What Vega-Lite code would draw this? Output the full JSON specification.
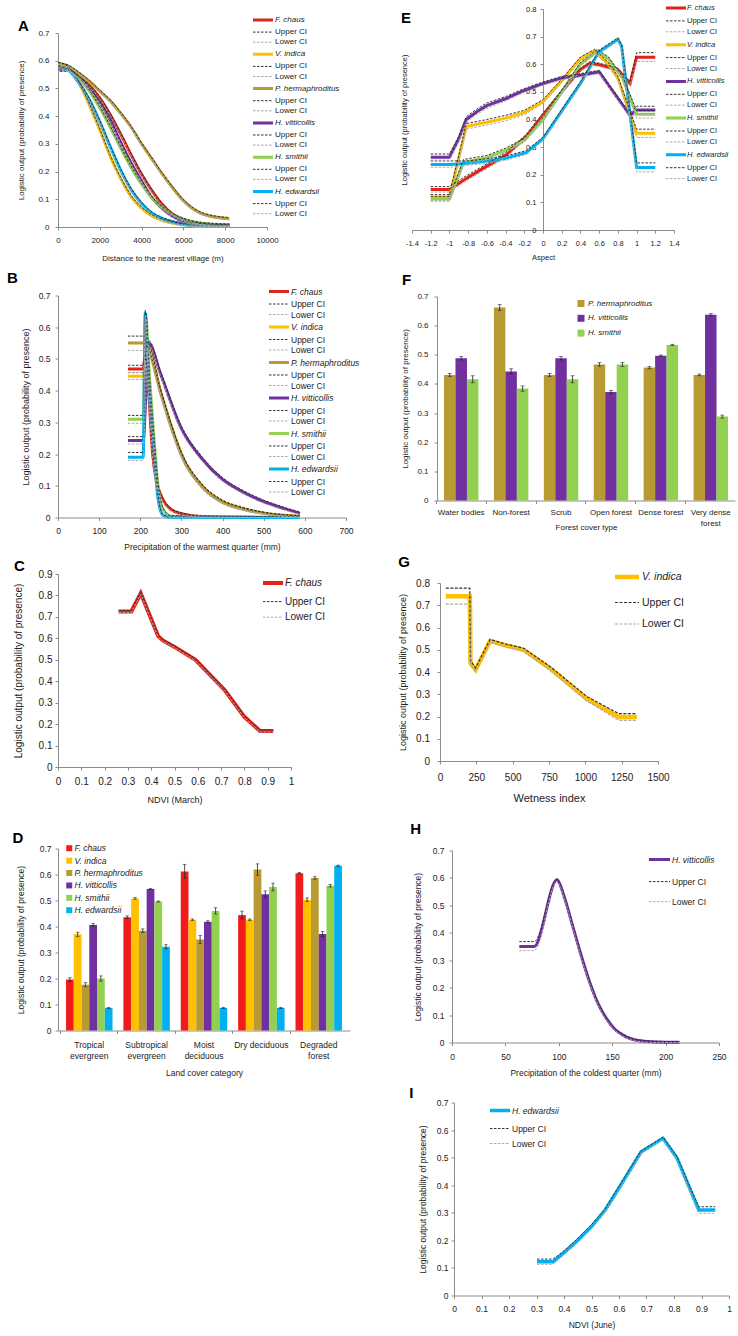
{
"$schema": "https://vega.github.io/schema/vega-lite/v6.json",
"background": "white",
"padding": {"left": 7, "top": 4, "right": 2, "bottom": 2},
"config": {
  "font": "Liberation Sans",
  "view": {"stroke": null},
  "axis": {"grid": false, "labelOverlap": false, "labelFlush": false, "tickCount": 20, "domainColor": "#8c8c8c", "tickColor": "#8c8c8c", "labelColor": "#222222", "titleColor": "#222222", "titleFontWeight": "normal", "tickSize": 3, "labelFont": "Liberation Sans", "titleFont": "Liberation Sans"},
  "legend": {"padding": 0, "labelColor": "#222222", "labelFont": "Liberation Sans", "labelLimit": 0},
  "title": {"font": "Liberation Sans", "color": "#000000"}
},
"datasets": {
"A": [
{"k":"F. chaus","x":0,"y":0.57,"u":0.574,"l":0.566},{"k":"F. chaus","x":500,"y":0.565,"u":0.569,"l":0.561},{"k":"F. chaus","x":1000,"y":0.54,"u":0.544,"l":0.536},{"k":"F. chaus","x":1500,"y":0.51,"u":0.514,"l":0.506},{"k":"F. chaus","x":2000,"y":0.465,"u":0.469,"l":0.461},{"k":"F. chaus","x":2500,"y":0.405,"u":0.409,"l":0.401},{"k":"F. chaus","x":3000,"y":0.335,"u":0.339,"l":0.331},{"k":"F. chaus","x":3500,"y":0.26,"u":0.264,"l":0.256},{"k":"F. chaus","x":4000,"y":0.19,"u":0.194,"l":0.186},{"k":"F. chaus","x":4500,"y":0.13,"u":0.134,"l":0.126},{"k":"F. chaus","x":5000,"y":0.08,"u":0.084,"l":0.076},{"k":"F. chaus","x":5500,"y":0.045,"u":0.049,"l":0.041},{"k":"F. chaus","x":6000,"y":0.025,"u":0.029,"l":0.021},{"k":"F. chaus","x":7000,"y":0.01,"u":0.013,"l":0.007},{"k":"F. chaus","x":8200,"y":0.005,"u":0.008,"l":0.002},
{"k":"V. indica","x":0,"y":0.59,"u":0.594,"l":0.586},{"k":"V. indica","x":500,"y":0.575,"u":0.579,"l":0.571},{"k":"V. indica","x":1000,"y":0.52,"u":0.524,"l":0.516},{"k":"V. indica","x":1500,"y":0.44,"u":0.444,"l":0.436},{"k":"V. indica","x":2000,"y":0.35,"u":0.354,"l":0.346},{"k":"V. indica","x":2500,"y":0.255,"u":0.259,"l":0.251},{"k":"V. indica","x":3000,"y":0.175,"u":0.179,"l":0.171},{"k":"V. indica","x":3500,"y":0.11,"u":0.114,"l":0.106},{"k":"V. indica","x":4000,"y":0.068,"u":0.072,"l":0.064},{"k":"V. indica","x":4500,"y":0.04,"u":0.044,"l":0.036},{"k":"V. indica","x":5000,"y":0.024,"u":0.028,"l":0.02},{"k":"V. indica","x":5500,"y":0.014,"u":0.018,"l":0.01},{"k":"V. indica","x":6000,"y":0.008,"u":0.012,"l":0.004},{"k":"V. indica","x":7000,"y":0.003,"u":0.006,"l":0.001},{"k":"V. indica","x":8200,"y":0.002,"u":0.005,"l":0},
{"k":"P. hermaphroditus","x":0,"y":0.59,"u":0.594,"l":0.586},{"k":"P. hermaphroditus","x":500,"y":0.58,"u":0.584,"l":0.576},{"k":"P. hermaphroditus","x":1000,"y":0.555,"u":0.559,"l":0.551},{"k":"P. hermaphroditus","x":1500,"y":0.525,"u":0.529,"l":0.521},{"k":"P. hermaphroditus","x":2000,"y":0.49,"u":0.494,"l":0.486},{"k":"P. hermaphroditus","x":2500,"y":0.455,"u":0.459,"l":0.451},{"k":"P. hermaphroditus","x":3000,"y":0.41,"u":0.414,"l":0.406},{"k":"P. hermaphroditus","x":3500,"y":0.36,"u":0.364,"l":0.356},{"k":"P. hermaphroditus","x":4000,"y":0.3,"u":0.304,"l":0.296},{"k":"P. hermaphroditus","x":4500,"y":0.245,"u":0.249,"l":0.241},{"k":"P. hermaphroditus","x":5000,"y":0.19,"u":0.194,"l":0.186},{"k":"P. hermaphroditus","x":5500,"y":0.14,"u":0.144,"l":0.136},{"k":"P. hermaphroditus","x":6000,"y":0.095,"u":0.099,"l":0.091},{"k":"P. hermaphroditus","x":7000,"y":0.045,"u":0.049,"l":0.041},{"k":"P. hermaphroditus","x":8200,"y":0.03,"u":0.034,"l":0.026},
{"k":"H. vitticollis","x":0,"y":0.565,"u":0.569,"l":0.561},{"k":"H. vitticollis","x":500,"y":0.565,"u":0.569,"l":0.561},{"k":"H. vitticollis","x":1000,"y":0.54,"u":0.544,"l":0.536},{"k":"H. vitticollis","x":1500,"y":0.5,"u":0.504,"l":0.496},{"k":"H. vitticollis","x":2000,"y":0.45,"u":0.454,"l":0.446},{"k":"H. vitticollis","x":2500,"y":0.385,"u":0.389,"l":0.381},{"k":"H. vitticollis","x":3000,"y":0.305,"u":0.309,"l":0.301},{"k":"H. vitticollis","x":3500,"y":0.23,"u":0.234,"l":0.226},{"k":"H. vitticollis","x":4000,"y":0.165,"u":0.169,"l":0.161},{"k":"H. vitticollis","x":4500,"y":0.105,"u":0.109,"l":0.101},{"k":"H. vitticollis","x":5000,"y":0.065,"u":0.069,"l":0.061},{"k":"H. vitticollis","x":5500,"y":0.038,"u":0.042,"l":0.034},{"k":"H. vitticollis","x":6000,"y":0.02,"u":0.024,"l":0.016},{"k":"H. vitticollis","x":7000,"y":0.008,"u":0.011,"l":0.005},{"k":"H. vitticollis","x":8200,"y":0.004,"u":0.007,"l":0.001},
{"k":"H. smithii","x":0,"y":0.58,"u":0.584,"l":0.576},{"k":"H. smithii","x":500,"y":0.57,"u":0.574,"l":0.566},{"k":"H. smithii","x":1000,"y":0.535,"u":0.539,"l":0.531},{"k":"H. smithii","x":1500,"y":0.49,"u":0.494,"l":0.486},{"k":"H. smithii","x":2000,"y":0.43,"u":0.434,"l":0.426},{"k":"H. smithii","x":2500,"y":0.36,"u":0.364,"l":0.356},{"k":"H. smithii","x":3000,"y":0.285,"u":0.289,"l":0.281},{"k":"H. smithii","x":3500,"y":0.215,"u":0.219,"l":0.211},{"k":"H. smithii","x":4000,"y":0.155,"u":0.159,"l":0.151},{"k":"H. smithii","x":4500,"y":0.105,"u":0.109,"l":0.101},{"k":"H. smithii","x":5000,"y":0.07,"u":0.074,"l":0.066},{"k":"H. smithii","x":5500,"y":0.045,"u":0.049,"l":0.041},{"k":"H. smithii","x":6000,"y":0.028,"u":0.032,"l":0.024},{"k":"H. smithii","x":7000,"y":0.012,"u":0.016,"l":0.008},{"k":"H. smithii","x":8200,"y":0.008,"u":0.011,"l":0.005},
{"k":"H. edwardsii","x":0,"y":0.575,"u":0.579,"l":0.571},{"k":"H. edwardsii","x":500,"y":0.565,"u":0.569,"l":0.561},{"k":"H. edwardsii","x":1000,"y":0.52,"u":0.524,"l":0.516},{"k":"H. edwardsii","x":1500,"y":0.46,"u":0.464,"l":0.456},{"k":"H. edwardsii","x":2000,"y":0.38,"u":0.384,"l":0.376},{"k":"H. edwardsii","x":2500,"y":0.29,"u":0.294,"l":0.286},{"k":"H. edwardsii","x":3000,"y":0.205,"u":0.209,"l":0.201},{"k":"H. edwardsii","x":3500,"y":0.135,"u":0.139,"l":0.131},{"k":"H. edwardsii","x":4000,"y":0.085,"u":0.089,"l":0.081},{"k":"H. edwardsii","x":4500,"y":0.05,"u":0.054,"l":0.046},{"k":"H. edwardsii","x":5000,"y":0.03,"u":0.034,"l":0.026},{"k":"H. edwardsii","x":5500,"y":0.018,"u":0.022,"l":0.014},{"k":"H. edwardsii","x":6000,"y":0.01,"u":0.014,"l":0.006},{"k":"H. edwardsii","x":7000,"y":0.004,"u":0.007,"l":0.001},{"k":"H. edwardsii","x":8200,"y":0.002,"u":0.005,"l":0}
],
"B": [
{"k":"F. chaus","x":170,"y":0.468,"u":0.48,"l":0.457},{"k":"F. chaus","x":207,"y":0.468,"u":0.48,"l":0.457},{"k":"F. chaus","x":211,"y":0.5,"u":0.51,"l":0.49},{"k":"F. chaus","x":220,"y":0.4,"u":0.41,"l":0.39},{"k":"F. chaus","x":230,"y":0.2,"u":0.21,"l":0.19},{"k":"F. chaus","x":240,"y":0.11,"u":0.118,"l":0.102},{"k":"F. chaus","x":250,"y":0.07,"u":0.076,"l":0.064},{"k":"F. chaus","x":260,"y":0.045,"u":0.05,"l":0.04},{"k":"F. chaus","x":275,"y":0.025,"u":0.029,"l":0.021},{"k":"F. chaus","x":300,"y":0.012,"u":0.015,"l":0.009},{"k":"F. chaus","x":350,"y":0.003,"u":0.005,"l":0.001},{"k":"F. chaus","x":588,"y":0,"u":0.001,"l":0},
{"k":"V. indica","x":170,"y":0.445,"u":0.457,"l":0.435},{"k":"V. indica","x":207,"y":0.445,"u":0.457,"l":0.435},{"k":"V. indica","x":218,"y":0.54,"u":0.548,"l":0.532},{"k":"V. indica","x":250,"y":0.395,"u":0.403,"l":0.387},{"k":"V. indica","x":275,"y":0.29,"u":0.298,"l":0.282},{"k":"V. indica","x":300,"y":0.2,"u":0.207,"l":0.193},{"k":"V. indica","x":350,"y":0.1,"u":0.106,"l":0.094},{"k":"V. indica","x":400,"y":0.05,"u":0.055,"l":0.045},{"k":"V. indica","x":450,"y":0.028,"u":0.032,"l":0.024},{"k":"V. indica","x":500,"y":0.014,"u":0.017,"l":0.011},{"k":"V. indica","x":588,"y":0.004,"u":0.006,"l":0.002},
{"k":"P. hermaphroditus","x":170,"y":0.55,"u":0.572,"l":0.527},{"k":"P. hermaphroditus","x":207,"y":0.55,"u":0.572,"l":0.527},{"k":"P. hermaphroditus","x":218,"y":0.535,"u":0.543,"l":0.527},{"k":"P. hermaphroditus","x":250,"y":0.39,"u":0.398,"l":0.382},{"k":"P. hermaphroditus","x":275,"y":0.285,"u":0.293,"l":0.277},{"k":"P. hermaphroditus","x":300,"y":0.196,"u":0.203,"l":0.189},{"k":"P. hermaphroditus","x":350,"y":0.097,"u":0.103,"l":0.091},{"k":"P. hermaphroditus","x":400,"y":0.048,"u":0.053,"l":0.043},{"k":"P. hermaphroditus","x":450,"y":0.026,"u":0.03,"l":0.022},{"k":"P. hermaphroditus","x":500,"y":0.013,"u":0.016,"l":0.01},{"k":"P. hermaphroditus","x":588,"y":0.003,"u":0.005,"l":0.001},
{"k":"H. vitticollis","x":170,"y":0.243,"u":0.255,"l":0.232},{"k":"H. vitticollis","x":207,"y":0.243,"u":0.255,"l":0.232},{"k":"H. vitticollis","x":220,"y":0.55,"u":0.558,"l":0.542},{"k":"H. vitticollis","x":250,"y":0.45,"u":0.458,"l":0.442},{"k":"H. vitticollis","x":300,"y":0.28,"u":0.288,"l":0.272},{"k":"H. vitticollis","x":350,"y":0.185,"u":0.192,"l":0.178},{"k":"H. vitticollis","x":400,"y":0.12,"u":0.126,"l":0.114},{"k":"H. vitticollis","x":450,"y":0.08,"u":0.085,"l":0.075},{"k":"H. vitticollis","x":500,"y":0.05,"u":0.055,"l":0.045},{"k":"H. vitticollis","x":550,"y":0.028,"u":0.032,"l":0.024},{"k":"H. vitticollis","x":588,"y":0.013,"u":0.017,"l":0.009},
{"k":"H. smithii","x":170,"y":0.31,"u":0.322,"l":0.297},{"k":"H. smithii","x":207,"y":0.31,"u":0.322,"l":0.297},{"k":"H. smithii","x":213,"y":0.64,"u":0.648,"l":0.632},{"k":"H. smithii","x":222,"y":0.45,"u":0.458,"l":0.442},{"k":"H. smithii","x":235,"y":0.22,"u":0.228,"l":0.212},{"k":"H. smithii","x":245,"y":0.08,"u":0.086,"l":0.074},{"k":"H. smithii","x":258,"y":0.02,"u":0.024,"l":0.016},{"k":"H. smithii","x":275,"y":0.004,"u":0.006,"l":0.002},{"k":"H. smithii","x":588,"y":0,"u":0.001,"l":0},
{"k":"H. edwardsii","x":170,"y":0.19,"u":0.205,"l":0.18},{"k":"H. edwardsii","x":207,"y":0.19,"u":0.205,"l":0.18},{"k":"H. edwardsii","x":212,"y":0.645,"u":0.653,"l":0.637},{"k":"H. edwardsii","x":220,"y":0.43,"u":0.438,"l":0.422},{"k":"H. edwardsii","x":233,"y":0.217,"u":0.225,"l":0.209},{"k":"H. edwardsii","x":243,"y":0.06,"u":0.066,"l":0.054},{"k":"H. edwardsii","x":255,"y":0.007,"u":0.01,"l":0.004},{"k":"H. edwardsii","x":270,"y":0.001,"u":0.002,"l":0},{"k":"H. edwardsii","x":588,"y":0,"u":0.001,"l":0}
],
"C": [
{"k":"F. chaus","x":0.26,"y":0.725,"u":0.729,"l":0.721},{"k":"F. chaus","x":0.315,"y":0.725,"u":0.729,"l":0.721},{"k":"F. chaus","x":0.355,"y":0.81,"u":0.814,"l":0.806},{"k":"F. chaus","x":0.43,"y":0.61,"u":0.614,"l":0.606},{"k":"F. chaus","x":0.45,"y":0.59,"u":0.594,"l":0.586},{"k":"F. chaus","x":0.5,"y":0.56,"u":0.564,"l":0.556},{"k":"F. chaus","x":0.59,"y":0.5,"u":0.504,"l":0.496},{"k":"F. chaus","x":0.716,"y":0.358,"u":0.362,"l":0.354},{"k":"F. chaus","x":0.8,"y":0.234,"u":0.238,"l":0.23},{"k":"F. chaus","x":0.867,"y":0.168,"u":0.172,"l":0.164},{"k":"F. chaus","x":0.924,"y":0.168,"u":0.172,"l":0.164}
],
"D": [
{"c":"Tropical evergreen","k":"F. chaus","v":0.196,"lo":0.189,"hi":0.203},{"c":"Tropical evergreen","k":"V. indica","v":0.37,"lo":0.362,"hi":0.378},{"c":"Tropical evergreen","k":"P. hermaphroditus","v":0.176,"lo":0.168,"hi":0.184},{"c":"Tropical evergreen","k":"H. vitticollis","v":0.406,"lo":0.4,"hi":0.412},{"c":"Tropical evergreen","k":"H. smithii","v":0.2,"lo":0.19,"hi":0.21},{"c":"Tropical evergreen","k":"H. edwardsii","v":0.087,"lo":0.085,"hi":0.089},
{"c":"Subtropical evergreen","k":"F. chaus","v":0.436,"lo":0.431,"hi":0.441},{"c":"Subtropical evergreen","k":"V. indica","v":0.508,"lo":0.505,"hi":0.511},{"c":"Subtropical evergreen","k":"P. hermaphroditus","v":0.384,"lo":0.377,"hi":0.391},{"c":"Subtropical evergreen","k":"H. vitticollis","v":0.544,"lo":0.542,"hi":0.546},{"c":"Subtropical evergreen","k":"H. smithii","v":0.496,"lo":0.494,"hi":0.498},{"c":"Subtropical evergreen","k":"H. edwardsii","v":0.322,"lo":0.314,"hi":0.33},
{"c":"Moist deciduous","k":"F. chaus","v":0.612,"lo":0.585,"hi":0.639},{"c":"Moist deciduous","k":"V. indica","v":0.426,"lo":0.423,"hi":0.429},{"c":"Moist deciduous","k":"P. hermaphroditus","v":0.35,"lo":0.335,"hi":0.365},{"c":"Moist deciduous","k":"H. vitticollis","v":0.418,"lo":0.414,"hi":0.422},{"c":"Moist deciduous","k":"H. smithii","v":0.46,"lo":0.448,"hi":0.472},{"c":"Moist deciduous","k":"H. edwardsii","v":0.087,"lo":0.085,"hi":0.089},
{"c":"Dry deciduous","k":"F. chaus","v":0.444,"lo":0.429,"hi":0.459},{"c":"Dry deciduous","k":"V. indica","v":0.426,"lo":0.423,"hi":0.429},{"c":"Dry deciduous","k":"P. hermaphroditus","v":0.619,"lo":0.597,"hi":0.641},{"c":"Dry deciduous","k":"H. vitticollis","v":0.524,"lo":0.511,"hi":0.537},{"c":"Dry deciduous","k":"H. smithii","v":0.552,"lo":0.537,"hi":0.567},{"c":"Dry deciduous","k":"H. edwardsii","v":0.087,"lo":0.085,"hi":0.089},
{"c":"Degraded forest","k":"F. chaus","v":0.605,"lo":0.602,"hi":0.608},{"c":"Degraded forest","k":"V. indica","v":0.503,"lo":0.496,"hi":0.51},{"c":"Degraded forest","k":"P. hermaphroditus","v":0.587,"lo":0.582,"hi":0.592},{"c":"Degraded forest","k":"H. vitticollis","v":0.371,"lo":0.361,"hi":0.381},{"c":"Degraded forest","k":"H. smithii","v":0.557,"lo":0.552,"hi":0.562},{"c":"Degraded forest","k":"H. edwardsii","v":0.634,"lo":0.632,"hi":0.636}
],
"E": [
{"k":"F. chaus","x":-1.2,"y":0.147,"u":0.157,"l":0.137},{"k":"F. chaus","x":-1.0,"y":0.147,"u":0.157,"l":0.137},{"k":"F. chaus","x":-0.85,"y":0.18,"u":0.19,"l":0.172},{"k":"F. chaus","x":-0.64,"y":0.223,"u":0.232,"l":0.214},{"k":"F. chaus","x":-0.4,"y":0.27,"u":0.28,"l":0.262},{"k":"F. chaus","x":-0.18,"y":0.338,"u":0.346,"l":0.33},{"k":"F. chaus","x":0,"y":0.416,"u":0.423,"l":0.41},{"k":"F. chaus","x":0.2,"y":0.5,"u":0.506,"l":0.494},{"k":"F. chaus","x":0.4,"y":0.58,"u":0.586,"l":0.575},{"k":"F. chaus","x":0.5,"y":0.603,"u":0.609,"l":0.597},{"k":"F. chaus","x":0.6,"y":0.598,"u":0.604,"l":0.592},{"k":"F. chaus","x":0.8,"y":0.58,"u":0.586,"l":0.574},{"k":"F. chaus","x":0.93,"y":0.53,"u":0.537,"l":0.523},{"k":"F. chaus","x":1.0,"y":0.625,"u":0.642,"l":0.61},{"k":"F. chaus","x":1.2,"y":0.625,"u":0.642,"l":0.61},
{"k":"V. indica","x":-1.2,"y":0.118,"u":0.128,"l":0.108},{"k":"V. indica","x":-1.0,"y":0.118,"u":0.128,"l":0.108},{"k":"V. indica","x":-0.82,"y":0.375,"u":0.385,"l":0.365},{"k":"V. indica","x":-0.6,"y":0.39,"u":0.4,"l":0.38},{"k":"V. indica","x":-0.4,"y":0.405,"u":0.415,"l":0.395},{"k":"V. indica","x":-0.2,"y":0.425,"u":0.433,"l":0.417},{"k":"V. indica","x":0,"y":0.465,"u":0.472,"l":0.458},{"k":"V. indica","x":0.2,"y":0.54,"u":0.546,"l":0.534},{"k":"V. indica","x":0.4,"y":0.62,"u":0.626,"l":0.614},{"k":"V. indica","x":0.55,"y":0.648,"u":0.654,"l":0.642},{"k":"V. indica","x":0.7,"y":0.6,"u":0.606,"l":0.594},{"k":"V. indica","x":0.8,"y":0.55,"u":0.556,"l":0.544},{"k":"V. indica","x":1.0,"y":0.35,"u":0.365,"l":0.335},{"k":"V. indica","x":1.2,"y":0.35,"u":0.365,"l":0.335},
{"k":"H. vitticollis","x":-1.2,"y":0.263,"u":0.275,"l":0.253},{"k":"H. vitticollis","x":-1.0,"y":0.263,"u":0.275,"l":0.253},{"k":"H. vitticollis","x":-0.9,"y":0.33,"u":0.34,"l":0.32},{"k":"H. vitticollis","x":-0.82,"y":0.4,"u":0.41,"l":0.39},{"k":"H. vitticollis","x":-0.7,"y":0.43,"u":0.44,"l":0.42},{"k":"H. vitticollis","x":-0.6,"y":0.45,"u":0.46,"l":0.44},{"k":"H. vitticollis","x":-0.4,"y":0.475,"u":0.483,"l":0.467},{"k":"H. vitticollis","x":-0.2,"y":0.505,"u":0.512,"l":0.498},{"k":"H. vitticollis","x":0,"y":0.53,"u":0.536,"l":0.524},{"k":"H. vitticollis","x":0.2,"y":0.55,"u":0.556,"l":0.544},{"k":"H. vitticollis","x":0.4,"y":0.56,"u":0.566,"l":0.554},{"k":"H. vitticollis","x":0.6,"y":0.572,"u":0.578,"l":0.566},{"k":"H. vitticollis","x":0.75,"y":0.5,"u":0.507,"l":0.493},{"k":"H. vitticollis","x":0.93,"y":0.415,"u":0.422,"l":0.408},{"k":"H. vitticollis","x":1.0,"y":0.434,"u":0.448,"l":0.42},{"k":"H. vitticollis","x":1.2,"y":0.434,"u":0.448,"l":0.42},
{"k":"H. smithii","x":-1.2,"y":0.112,"u":0.122,"l":0.104},{"k":"H. smithii","x":-1.0,"y":0.112,"u":0.122,"l":0.104},{"k":"H. smithii","x":-0.9,"y":0.2,"u":0.21,"l":0.19},{"k":"H. smithii","x":-0.85,"y":0.245,"u":0.255,"l":0.236},{"k":"H. smithii","x":-0.6,"y":0.262,"u":0.27,"l":0.254},{"k":"H. smithii","x":-0.4,"y":0.288,"u":0.296,"l":0.28},{"k":"H. smithii","x":-0.2,"y":0.325,"u":0.332,"l":0.318},{"k":"H. smithii","x":0,"y":0.4,"u":0.407,"l":0.393},{"k":"H. smithii","x":0.2,"y":0.5,"u":0.506,"l":0.494},{"k":"H. smithii","x":0.4,"y":0.6,"u":0.606,"l":0.594},{"k":"H. smithii","x":0.58,"y":0.648,"u":0.654,"l":0.642},{"k":"H. smithii","x":0.7,"y":0.62,"u":0.626,"l":0.614},{"k":"H. smithii","x":0.85,"y":0.55,"u":0.556,"l":0.544},{"k":"H. smithii","x":1.0,"y":0.419,"u":0.432,"l":0.405},{"k":"H. smithii","x":1.2,"y":0.419,"u":0.432,"l":0.405},
{"k":"H. edwardsii","x":-1.2,"y":0.237,"u":0.25,"l":0.227},{"k":"H. edwardsii","x":-1.0,"y":0.237,"u":0.25,"l":0.227},{"k":"H. edwardsii","x":-0.8,"y":0.242,"u":0.25,"l":0.234},{"k":"H. edwardsii","x":-0.6,"y":0.25,"u":0.258,"l":0.242},{"k":"H. edwardsii","x":-0.4,"y":0.26,"u":0.268,"l":0.252},{"k":"H. edwardsii","x":-0.18,"y":0.28,"u":0.287,"l":0.273},{"k":"H. edwardsii","x":0,"y":0.33,"u":0.336,"l":0.324},{"k":"H. edwardsii","x":0.2,"y":0.43,"u":0.436,"l":0.424},{"k":"H. edwardsii","x":0.4,"y":0.53,"u":0.536,"l":0.524},{"k":"H. edwardsii","x":0.6,"y":0.645,"u":0.651,"l":0.639},{"k":"H. edwardsii","x":0.8,"y":0.69,"u":0.696,"l":0.684},{"k":"H. edwardsii","x":0.84,"y":0.665,"u":0.671,"l":0.659},{"k":"H. edwardsii","x":1.0,"y":0.226,"u":0.243,"l":0.21},{"k":"H. edwardsii","x":1.2,"y":0.226,"u":0.243,"l":0.21}
],
"F": [
{"c":"Water bodies","k":"P. hermaphroditus","v":0.431,"lo":0.426,"hi":0.436},{"c":"Water bodies","k":"H. vitticollis","v":0.488,"lo":0.482,"hi":0.494},{"c":"Water bodies","k":"H. smithii","v":0.416,"lo":0.404,"hi":0.428},
{"c":"Non-forest","k":"P. hermaphroditus","v":0.662,"lo":0.652,"hi":0.672},{"c":"Non-forest","k":"H. vitticollis","v":0.443,"lo":0.434,"hi":0.452},{"c":"Non-forest","k":"H. smithii","v":0.384,"lo":0.375,"hi":0.393},
{"c":"Scrub","k":"P. hermaphroditus","v":0.431,"lo":0.426,"hi":0.436},{"c":"Scrub","k":"H. vitticollis","v":0.488,"lo":0.482,"hi":0.494},{"c":"Scrub","k":"H. smithii","v":0.416,"lo":0.404,"hi":0.428},
{"c":"Open forest","k":"P. hermaphroditus","v":0.467,"lo":0.461,"hi":0.473},{"c":"Open forest","k":"H. vitticollis","v":0.372,"lo":0.366,"hi":0.378},{"c":"Open forest","k":"H. smithii","v":0.467,"lo":0.46,"hi":0.474},
{"c":"Dense forest","k":"P. hermaphroditus","v":0.456,"lo":0.452,"hi":0.46},{"c":"Dense forest","k":"H. vitticollis","v":0.497,"lo":0.495,"hi":0.499},{"c":"Dense forest","k":"H. smithii","v":0.534,"lo":0.532,"hi":0.536},
{"c":"Very dense forest","k":"P. hermaphroditus","v":0.431,"lo":0.428,"hi":0.434},{"c":"Very dense forest","k":"H. vitticollis","v":0.637,"lo":0.633,"hi":0.641},{"c":"Very dense forest","k":"H. smithii","v":0.288,"lo":0.283,"hi":0.293}
],
"G": [
{"k":"V. indica","x":40,"y":0.74,"u":0.777,"l":0.705},{"k":"V. indica","x":205,"y":0.74,"u":0.777,"l":0.705},{"k":"V. indica","x":210,"y":0.44,"u":0.45,"l":0.43},{"k":"V. indica","x":245,"y":0.41,"u":0.418,"l":0.402},{"k":"V. indica","x":345,"y":0.54,"u":0.546,"l":0.534},{"k":"V. indica","x":450,"y":0.52,"u":0.526,"l":0.514},{"k":"V. indica","x":575,"y":0.5,"u":0.507,"l":0.493},{"k":"V. indica","x":760,"y":0.415,"u":0.423,"l":0.407},{"k":"V. indica","x":1010,"y":0.28,"u":0.29,"l":0.27},{"k":"V. indica","x":1230,"y":0.198,"u":0.213,"l":0.183},{"k":"V. indica","x":1355,"y":0.198,"u":0.213,"l":0.183}
],
"H": [
{"k":"H. vitticollis","x":63,"y":0.35,"u":0.368,"l":0.335},{"k":"H. vitticollis","x":77,"y":0.35,"u":0.368,"l":0.335},{"k":"H. vitticollis","x":98.4,"y":0.593,"u":0.597,"l":0.588},{"k":"H. vitticollis","x":100,"y":0.585,"u":0.59,"l":0.58},{"k":"H. vitticollis","x":106,"y":0.52,"u":0.525,"l":0.515},{"k":"H. vitticollis","x":113,"y":0.425,"u":0.43,"l":0.42},{"k":"H. vitticollis","x":120,"y":0.33,"u":0.335,"l":0.325},{"k":"H. vitticollis","x":129,"y":0.219,"u":0.224,"l":0.214},{"k":"H. vitticollis","x":137,"y":0.14,"u":0.145,"l":0.135},{"k":"H. vitticollis","x":145,"y":0.085,"u":0.09,"l":0.08},{"k":"H. vitticollis","x":152,"y":0.05,"u":0.054,"l":0.046},{"k":"H. vitticollis","x":160,"y":0.027,"u":0.031,"l":0.023},{"k":"H. vitticollis","x":176,"y":0.006,"u":0.009,"l":0.003},{"k":"H. vitticollis","x":190,"y":0.002,"u":0.005,"l":0},{"k":"H. vitticollis","x":213,"y":0.001,"u":0.003,"l":0}
],
"I": [
{"k":"H. edwardsii","x":0.302,"y":0.122,"u":0.132,"l":0.113},{"k":"H. edwardsii","x":0.36,"y":0.122,"u":0.132,"l":0.113},{"k":"H. edwardsii","x":0.4,"y":0.155,"u":0.162,"l":0.149},{"k":"H. edwardsii","x":0.45,"y":0.2,"u":0.207,"l":0.193},{"k":"H. edwardsii","x":0.5,"y":0.25,"u":0.257,"l":0.243},{"k":"H. edwardsii","x":0.55,"y":0.31,"u":0.316,"l":0.304},{"k":"H. edwardsii","x":0.6,"y":0.39,"u":0.396,"l":0.384},{"k":"H. edwardsii","x":0.68,"y":0.52,"u":0.525,"l":0.515},{"k":"H. edwardsii","x":0.76,"y":0.57,"u":0.574,"l":0.566},{"k":"H. edwardsii","x":0.81,"y":0.5,"u":0.506,"l":0.494},{"k":"H. edwardsii","x":0.89,"y":0.31,"u":0.322,"l":0.298},{"k":"H. edwardsii","x":0.95,"y":0.31,"u":0.322,"l":0.298}
]
},
"spacing": 38,
"resolve": {"scale": {"color": "independent", "xOffset": "independent"}},
"hconcat": [
{
"spacing": 8.5,
"resolve": {"scale": {"color": "independent", "xOffset": "independent"}},
"vconcat": [
{
 "width": 209, "height": 218,
 "title": {"text": "A", "orient": "left", "anchor": "end", "frame": "group", "angle": 0, "offset": -21.8, "dy": 21.5, "fontSize": 15, "fontWeight": "bold", "baseline": "alphabetic", "align": "right"},
 "data": {"name": "A"},
 "encoding": {"x": {"field": "x", "type": "quantitative", "title": "Distance to the nearest village (m)", "scale": {"domain": [0, 10000]}, "axis": {"values": [0, 2000, 4000, 6000, 8000, 10000], "tickCount": 20, "format": "d", "labelOverlap": false, "labelFontSize": 8, "titleFontSize": 8, "labelPadding": 6, "titlePadding": 10}}},
 "layer": [
  {"mark": {"type": "line", "strokeWidth": 3, "interpolate": "monotone"},
   "encoding": {
    "y": {"field": "y", "type": "quantitative", "title": "Logistic output (probability of presence)", "scale": {"domain": [0, 0.7], "range": [218, 24]}, "axis": {"values": [0, 0.1, 0.2, 0.3, 0.4, 0.5, 0.6, 0.7], "tickCount": 20, "format": "~g", "labelOverlap": false, "labelFontSize": 8, "titleFontSize": 8, "labelPadding": 6, "titlePadding": 12}},
    "color": {"field": "k", "type": "nominal",
     "scale": {"domain": ["F. chaus","U1","L1","V. indica","U2","L2","P. hermaphroditus","U3","L3","H. vitticollis","U4","L4","H. smithii","U5","L5","H. edwardsii","U6","L6"], "range": ["#e2231a","#333333","#aaaaaa","#ffc000","#333333","#aaaaaa","#b99a32","#333333","#aaaaaa","#7030a0","#333333","#aaaaaa","#92d050","#333333","#aaaaaa","#00b0f0","#333333","#aaaaaa"]},
     "legend": {"orient": "none", "legendX": 195, "legendY": 7, "title": null, "symbolType": "M-5,0H5", "symbolSize": 16, "symbolStrokeWidth": 3, "symbolOffset": 6, "labelFontSize": 8, "rowPadding": 2.1, "labelOffset": 8,
      "labelExpr": "length(datum.value) < 3 ? (indexof(datum.value, 'U') == 0 ? 'Upper CI' : 'Lower CI') : datum.label",
      "encoding": {"symbols": {"strokeDash": {"condition": {"test": "length(datum.value) < 3", "value": [2.5, 1.5]}, "value": [1, 0]}, "strokeWidth": {"value": {"expr": "(length(datum.value || datum) < 3 ? 1 : 3)"}}}, "labels": {"fontStyle": {"condition": {"test": "length(datum.value) < 3", "value": "normal"}, "value": "italic"}}}}}
   }},
  {"mark": {"type": "line", "strokeWidth": 1, "strokeDash": [2.5, 1.5], "color": "#333333", "interpolate": "monotone"},
   "encoding": {"y": {"field": "u", "type": "quantitative", "title": "Logistic output (probability of presence)"}, "detail": {"field": "k", "type": "nominal"}}},
  {"mark": {"type": "line", "strokeWidth": 1, "strokeDash": [2.5, 1.5], "color": "#aaaaaa", "interpolate": "monotone"},
   "encoding": {"y": {"field": "l", "type": "quantitative", "title": "Logistic output (probability of presence)"}, "detail": {"field": "k", "type": "nominal"}}}
 ]
},
{
"spacing": 7.5,
"resolve": {"scale": {"color": "independent", "xOffset": "independent"}},
"vconcat": [
{
 "width": 288, "height": 222,
 "title": {"text": "B", "orient": "left", "anchor": "end", "frame": "group", "angle": 0, "offset": -7.5, "dy": -12.5, "fontSize": 15, "fontWeight": "bold", "baseline": "alphabetic", "align": "right"},
 "data": {"name": "B"},
 "encoding": {"x": {"field": "x", "type": "quantitative", "title": "Precipitation  of the warmest quarter (mm)", "scale": {"domain": [0, 700]}, "axis": {"values": [0, 100, 200, 300, 400, 500, 600, 700], "tickCount": 20, "format": "d", "labelOverlap": false, "labelFontSize": 8.5, "titleFontSize": 8.5, "labelPadding": 6, "titlePadding": 7}}},
 "layer": [
  {"mark": {"type": "line", "strokeWidth": 3, "interpolate": "monotone"},
   "encoding": {
    "y": {"field": "y", "type": "quantitative", "title": "Logistic output (probability of presence)", "scale": {"domain": [0, 0.7]}, "axis": {"values": [0, 0.1, 0.2, 0.3, 0.4, 0.5, 0.6, 0.7], "tickCount": 20, "format": "~g", "labelOverlap": false, "labelFontSize": 8.5, "titleFontSize": 9, "labelPadding": 5, "titlePadding": 8}},
    "color": {"field": "k", "type": "nominal",
     "scale": {"domain": ["F. chaus","U1","L1","V. indica","U2","L2","P. hermaphroditus","U3","L3","H. vitticollis","U4","L4","H. smithii","U5","L5","H. edwardsii","U6","L6"], "range": ["#e2231a","#333333","#aaaaaa","#ffc000","#333333","#aaaaaa","#b99a32","#333333","#aaaaaa","#7030a0","#333333","#aaaaaa","#92d050","#333333","#aaaaaa","#00b0f0","#333333","#aaaaaa"]},
     "legend": {"orient": "none", "legendX": 211, "legendY": -8.25, "title": null, "symbolType": "M-5,0H5", "symbolSize": 16, "symbolStrokeWidth": 3, "symbolOffset": 5.75, "labelFontSize": 8.5, "rowPadding": 1.5, "labelOffset": 7.75,
      "labelExpr": "length(datum.value) < 3 ? (indexof(datum.value, 'U') == 0 ? 'Upper CI' : 'Lower CI') : datum.label",
      "encoding": {"symbols": {"strokeDash": {"condition": {"test": "length(datum.value) < 3", "value": [2.5, 1.5]}, "value": [1, 0]}, "strokeWidth": {"value": {"expr": "(length(datum.value || datum) < 3 ? 1 : 3)"}}}, "labels": {"fontStyle": {"condition": {"test": "length(datum.value) < 3", "value": "normal"}, "value": "italic"}}}}}
   }},
  {"mark": {"type": "line", "strokeWidth": 1, "strokeDash": [2.5, 1.5], "color": "#333333", "interpolate": "monotone"},
   "encoding": {"y": {"field": "u", "type": "quantitative", "title": "Logistic output (probability of presence)"}, "detail": {"field": "k", "type": "nominal"}}},
  {"mark": {"type": "line", "strokeWidth": 1, "strokeDash": [2.5, 1.5], "color": "#aaaaaa", "interpolate": "monotone"},
   "encoding": {"y": {"field": "l", "type": "quantitative", "title": "Logistic output (probability of presence)"}, "detail": {"field": "k", "type": "nominal"}}}
 ]
},
{
"spacing": 26.5,
"resolve": {"scale": {"color": "independent", "xOffset": "independent"}},
"vconcat": [
{
 "width": 233, "height": 193,
 "title": {"text": "C", "orient": "left", "anchor": "end", "frame": "group", "angle": 0, "offset": -22.7, "dy": -3.5, "fontSize": 15, "fontWeight": "bold", "baseline": "alphabetic", "align": "right"},
 "data": {"name": "C"},
 "encoding": {"x": {"field": "x", "type": "quantitative", "title": "NDVI (March)", "scale": {"domain": [0, 1]}, "axis": {"values": [0, 0.1, 0.2, 0.3, 0.4, 0.5, 0.6, 0.7, 0.8, 0.9, 1], "tickCount": 20, "format": "~g", "labelOverlap": false, "labelFontSize": 10, "titleFontSize": 9, "labelPadding": 6, "titlePadding": 9}}},
 "layer": [
  {"mark": {"type": "line", "strokeWidth": 4},
   "encoding": {
    "y": {"field": "y", "type": "quantitative", "title": "Logistic output (probability of presence)", "scale": {"domain": [0, 0.9]}, "axis": {"values": [0, 0.1, 0.2, 0.3, 0.4, 0.5, 0.6, 0.7, 0.8, 0.9], "tickCount": 20, "format": "~g", "labelOverlap": false, "labelFontSize": 10, "titleFontSize": 10, "labelPadding": 3, "titlePadding": 15}},
    "color": {"field": "k", "type": "nominal",
     "scale": {"domain": ["F. chaus","U1","L1"], "range": ["#e2231a","#333333","#aaaaaa"]},
     "legend": {"orient": "none", "legendX": 205, "legendY": 4, "title": null, "symbolType": "M-5,0H5", "symbolSize": 16, "symbolStrokeWidth": 4, "symbolOffset": 5, "labelFontSize": 10, "rowPadding": 5.6, "labelOffset": 7,
      "labelExpr": "length(datum.value) < 3 ? (indexof(datum.value, 'U') == 0 ? 'Upper CI' : 'Lower CI') : datum.label",
      "encoding": {"symbols": {"strokeDash": {"condition": {"test": "length(datum.value) < 3", "value": [2.5, 1.5]}, "value": [1, 0]}, "strokeWidth": {"value": {"expr": "(length(datum.value || datum) < 3 ? 1 : 4)"}}}, "labels": {"fontStyle": {"condition": {"test": "length(datum.value) < 3", "value": "normal"}, "value": "italic"}}}}}
   }},
  {"mark": {"type": "line", "strokeWidth": 1, "strokeDash": [2.5, 1.5], "color": "#333333"},
   "encoding": {"y": {"field": "u", "type": "quantitative", "title": "Logistic output (probability of presence)"}, "detail": {"field": "k", "type": "nominal"}}},
  {"mark": {"type": "line", "strokeWidth": 1, "strokeDash": [2.5, 1.5], "color": "#aaaaaa"},
   "encoding": {"y": {"field": "l", "type": "quantitative", "title": "Logistic output (probability of presence)"}, "detail": {"field": "k", "type": "nominal"}}}
 ]
},
{
 "width": 292, "height": 182,
 "title": {"text": "D", "orient": "left", "anchor": "end", "frame": "group", "angle": 0, "offset": -18, "dy": -5.5, "fontSize": 15, "fontWeight": "bold", "baseline": "alphabetic", "align": "right"},
 "data": {"name": "D"},
 "encoding": {
  "x": {"field": "c", "type": "nominal", "title": "Land cover category", "sort": null,
   "scale": {"domain": ["Tropical evergreen","Subtropical evergreen","Moist deciduous","Dry deciduous","Degraded forest"], "paddingInner": 0.19, "paddingOuter": 0.14},
   "axis": {"labelAngle": 0, "labelOverlap": false, "labelFontSize": 8.5, "titleFontSize": 8.5, "labelPadding": 6.5, "titlePadding": 9, "labelLineHeight": 11, "bandPosition": -0.117, "labelExpr": "datum.label == 'Dry deciduous' ? datum.label : split(datum.label, ' ')"}},
  "xOffset": {"field": "k", "type": "nominal", "scale": {"domain": ["F. chaus","V. indica","P. hermaphroditus","H. vitticollis","H. smithii","H. edwardsii"], "paddingInner": 0, "paddingOuter": 0}}
 },
 "layer": [
  {"mark": {"type": "bar"},
   "encoding": {
    "y": {"field": "v", "type": "quantitative", "title": "Logistic output (probability of presence)", "scale": {"domain": [0, 0.7]}, "axis": {"values": [0, 0.1, 0.2, 0.3, 0.4, 0.5, 0.6, 0.7], "tickCount": 20, "format": "~g", "labelOverlap": false, "labelFontSize": 8.5, "titleFontSize": 8.5, "labelPadding": 4, "titlePadding": 14}},
    "color": {"field": "k", "type": "nominal", "scale": {"domain": ["F. chaus","V. indica","P. hermaphroditus","H. vitticollis","H. smithii","H. edwardsii"], "range": ["#f01c1c","#ffc000","#b99a32","#7030a0","#92d050","#00b0f0"]},
     "legend": {"orient": "none", "legendX": 7, "legendY": -4.5, "title": null, "symbolType": "square", "symbolSize": 36, "symbolStrokeWidth": 0, "labelFontSize": 8.5, "labelFontStyle": "italic", "rowPadding": 3.4, "labelOffset": 1}}
   }},
  {"mark": {"type": "rule", "color": "#222222", "strokeWidth": 0.8},
   "encoding": {"y": {"field": "lo", "type": "quantitative", "title": "Logistic output (probability of presence)"}, "y2": {"field": "hi"}}},
  {"mark": {"type": "tick", "color": "#222222", "thickness": 0.8, "size": 3.5, "orient": "horizontal"},
   "encoding": {"y": {"field": "lo", "type": "quantitative", "title": "Logistic output (probability of presence)"}}},
  {"mark": {"type": "tick", "color": "#222222", "thickness": 0.8, "size": 3.5, "orient": "horizontal"},
   "encoding": {"y": {"field": "hi", "type": "quantitative", "title": "Logistic output (probability of presence)"}}}
 ]
}
]
}
]
}
]
},
{
"spacing": 11.5,
"resolve": {"scale": {"color": "independent", "xOffset": "independent"}},
"vconcat": [
{
 "width": 262, "height": 221,
 "title": {"text": "E", "orient": "left", "anchor": "end", "frame": "group", "angle": 0, "offset": -21, "dy": 13.5, "fontSize": 15, "fontWeight": "bold", "baseline": "alphabetic", "align": "right"},
 "data": {"name": "E"},
 "encoding": {"x": {"field": "x", "type": "quantitative", "title": "Aspect", "scale": {"domain": [-1.4, 1.4]}, "axis": {"values": [-1.4, -1.2, -1, -0.8, -0.6, -0.4, -0.2, 0, 0.2, 0.4, 0.6, 0.8, 1, 1.2, 1.4], "tickCount": 30, "labelOverlap": false, "labelExpr": "replace(format(datum.value, '~g'), '−', '-')", "labelFontSize": 7.5, "titleFontSize": 7.5, "labelPadding": 6, "titlePadding": 7}}},
 "layer": [
  {"mark": {"type": "line", "strokeWidth": 3},
   "encoding": {
    "y": {"field": "y", "type": "quantitative", "title": "Logistic output (probability of presence)", "scale": {"domain": [0, 0.8]}, "axis": {"values": [0, 0.1, 0.2, 0.3, 0.4, 0.5, 0.6, 0.7, 0.8], "tickCount": 20, "format": "~g", "labelOverlap": false, "offset": -131, "labelFontSize": 7.5, "titleFontSize": 7.5, "labelPadding": 4, "titleX": -135}},
    "color": {"field": "k", "type": "nominal",
     "scale": {"domain": ["F. chaus","U1","L1","V. indica","U2","L2","H. vitticollis","U4","L4","H. smithii","U5","L5","H. edwardsii","U6","L6"], "range": ["#e2231a","#333333","#aaaaaa","#ffc000","#333333","#aaaaaa","#7030a0","#333333","#aaaaaa","#92d050","#333333","#aaaaaa","#00b0f0","#333333","#aaaaaa"]},
     "legend": {"orient": "none", "legendX": 254, "legendY": -4.75, "title": null, "symbolType": "M-5,0H5", "symbolSize": 16, "symbolStrokeWidth": 3, "symbolOffset": 6.25, "labelFontSize": 7.5, "rowPadding": 1.9, "labelOffset": 7.25,
      "labelExpr": "length(datum.value) < 3 ? (indexof(datum.value, 'U') == 0 ? 'Upper CI' : 'Lower CI') : datum.label",
      "encoding": {"symbols": {"strokeDash": {"condition": {"test": "length(datum.value) < 3", "value": [2.5, 1.5]}, "value": [1, 0]}, "strokeWidth": {"value": {"expr": "(length(datum.value || datum) < 3 ? 1 : 3)"}}}, "labels": {"fontStyle": {"condition": {"test": "length(datum.value) < 3", "value": "normal"}, "value": "italic"}}}}}
   }},
  {"mark": {"type": "line", "strokeWidth": 1, "strokeDash": [2.5, 1.5], "color": "#333333"},
   "encoding": {"y": {"field": "u", "type": "quantitative", "title": "Logistic output (probability of presence)"}, "detail": {"field": "k", "type": "nominal"}}},
  {"mark": {"type": "line", "strokeWidth": 1, "strokeDash": [2.5, 1.5], "color": "#aaaaaa"},
   "encoding": {"y": {"field": "l", "type": "quantitative", "title": "Logistic output (probability of presence)"}, "detail": {"field": "k", "type": "nominal"}}}
 ]
},
{
"spacing": 22.5,
"resolve": {"scale": {"color": "independent", "xOffset": "independent"}},
"vconcat": [
{
 "width": 323, "height": 204,
 "title": {"text": "F", "orient": "left", "anchor": "end", "frame": "group", "angle": 0, "offset": -18.4, "dy": -11.5, "fontSize": 15, "fontWeight": "bold", "baseline": "alphabetic", "align": "right"},
 "data": {"name": "F"},
 "encoding": {
  "x": {"field": "c", "type": "nominal", "title": "Forest cover type", "sort": null,
   "scale": {"domain": ["Water bodies","Non-forest","Scrub","Open forest","Dense forest","Very dense forest"], "range": [25, 323], "paddingInner": 0.31, "paddingOuter": 0.14},
   "axis": {"labelAngle": 0, "labelOverlap": false, "labelFontSize": 8, "titleFontSize": 8, "labelPadding": 5, "titleY": 23, "labelLineHeight": 11, "bandPosition": -0.225, "labelExpr": "datum.label == 'Very dense forest' ? ['Very dense', 'forest'] : datum.label"}},
  "xOffset": {"field": "k", "type": "nominal", "scale": {"domain": ["P. hermaphroditus","H. vitticollis","H. smithii"], "paddingInner": 0, "paddingOuter": 0}}
 },
 "layer": [
  {"mark": {"type": "bar"},
   "encoding": {
    "y": {"field": "v", "type": "quantitative", "title": "Logistic output (probability of presence)", "scale": {"domain": [0, 0.7]}, "axis": {"values": [0, 0.1, 0.2, 0.3, 0.4, 0.5, 0.6, 0.7], "tickCount": 20, "format": "~g", "labelOverlap": false, "offset": -25, "labelFontSize": 8, "titleFontSize": 8, "labelPadding": 6, "titlePadding": 7}},
    "color": {"field": "k", "type": "nominal", "scale": {"domain": ["P. hermaphroditus","H. vitticollis","H. smithii"], "range": ["#b99a32","#7030a0","#92d050"]},
     "legend": {"orient": "none", "legendX": 165, "legendY": 3, "title": null, "symbolType": "square", "symbolSize": 49, "symbolStrokeWidth": 0, "labelFontSize": 8, "labelFontStyle": "italic", "rowPadding": 6.8, "labelOffset": 3}}
   }},
  {"mark": {"type": "rule", "color": "#222222", "strokeWidth": 0.8},
   "encoding": {"y": {"field": "lo", "type": "quantitative", "title": "Logistic output (probability of presence)"}, "y2": {"field": "hi"}}},
  {"mark": {"type": "tick", "color": "#222222", "thickness": 0.8, "size": 4, "orient": "horizontal"},
   "encoding": {"y": {"field": "lo", "type": "quantitative", "title": "Logistic output (probability of presence)"}}},
  {"mark": {"type": "tick", "color": "#222222", "thickness": 0.8, "size": 4, "orient": "horizontal"},
   "encoding": {"y": {"field": "hi", "type": "quantitative", "title": "Logistic output (probability of presence)"}}}
 ]
},
{
"spacing": 18.5,
"resolve": {"scale": {"color": "independent", "xOffset": "independent"}},
"vconcat": [
{
 "width": 246, "height": 178,
 "title": {"text": "G", "orient": "left", "anchor": "end", "frame": "group", "angle": 0, "offset": -23, "dy": -16.5, "fontSize": 15, "fontWeight": "bold", "baseline": "alphabetic", "align": "right"},
 "data": {"name": "G"},
 "encoding": {"x": {"field": "x", "type": "quantitative", "title": "Wetness index", "scale": {"domain": [0, 1500], "range": [28, 246]}, "axis": {"values": [0, 250, 500, 750, 1000, 1250, 1500], "tickCount": 20, "format": "d", "labelOverlap": false, "labelFontSize": 10, "titleFontSize": 11, "labelPadding": 8, "titlePadding": 10}}},
 "layer": [
  {"mark": {"type": "line", "strokeWidth": 4.5},
   "encoding": {
    "y": {"field": "y", "type": "quantitative", "title": "Logistic output (probability of presence)", "scale": {"domain": [0, 0.8]}, "axis": {"values": [0, 0.1, 0.2, 0.3, 0.4, 0.5, 0.6, 0.7, 0.8], "tickCount": 20, "format": "~g", "labelOverlap": false, "offset": -28, "labelFontSize": 10, "titleFontSize": 9, "labelPadding": 7.5, "titlePadding": 8}},
    "color": {"field": "k", "type": "nominal",
     "scale": {"domain": ["V. indica","U2","L2"], "range": ["#ffc000","#333333","#aaaaaa"]},
     "legend": {"orient": "none", "legendX": 203, "legendY": -11.25, "title": null, "symbolType": "M-6,0H6", "symbolSize": 16, "symbolStrokeWidth": 4.5, "symbolOffset": 6.75, "labelFontSize": 10.5, "rowPadding": 10.5, "labelOffset": 9.75,
      "labelExpr": "length(datum.value) < 3 ? (indexof(datum.value, 'U') == 0 ? 'Upper CI' : 'Lower CI') : datum.label",
      "encoding": {"symbols": {"strokeDash": {"condition": {"test": "length(datum.value) < 3", "value": [3, 1.5]}, "value": [1, 0]}, "strokeWidth": {"value": {"expr": "(length(datum.value || datum) < 3 ? 1.2 : 4.5)"}}}, "labels": {"fontStyle": {"condition": {"test": "length(datum.value) < 3", "value": "normal"}, "value": "italic"}}}}}
   }},
  {"mark": {"type": "line", "strokeWidth": 1.2, "strokeDash": [3, 1.5], "color": "#333333"},
   "encoding": {"y": {"field": "u", "type": "quantitative", "title": "Logistic output (probability of presence)"}, "detail": {"field": "k", "type": "nominal"}}},
  {"mark": {"type": "line", "strokeWidth": 1.2, "strokeDash": [3, 1.5], "color": "#aaaaaa"},
   "encoding": {"y": {"field": "l", "type": "quantitative", "title": "Logistic output (probability of presence)"}, "detail": {"field": "k", "type": "nominal"}}}
 ]
},
{
"spacing": 8,
"resolve": {"scale": {"color": "independent", "xOffset": "independent"}},
"vconcat": [
{
 "width": 307, "height": 192,
 "title": {"text": "H", "orient": "left", "anchor": "end", "frame": "group", "angle": 0, "offset": -20, "dy": -16.5, "fontSize": 15, "fontWeight": "bold", "baseline": "alphabetic", "align": "right"},
 "data": {"name": "H"},
 "encoding": {"x": {"field": "x", "type": "quantitative", "title": "Precipitation of the coldest quarter (mm)", "scale": {"domain": [0, 250], "range": [40, 307]}, "axis": {"values": [0, 50, 100, 150, 200, 250], "tickCount": 20, "format": "d", "labelOverlap": false, "labelFontSize": 8.5, "titleFontSize": 8.5, "labelPadding": 6.5, "titlePadding": 8}}},
 "layer": [
  {"mark": {"type": "line", "strokeWidth": 3, "interpolate": "monotone"},
   "encoding": {
    "y": {"field": "y", "type": "quantitative", "title": "Logistic output (probability of presence)", "scale": {"domain": [0, 0.7]}, "axis": {"values": [0, 0.1, 0.2, 0.3, 0.4, 0.5, 0.6, 0.7], "tickCount": 20, "format": "~g", "labelOverlap": false, "offset": -40, "labelFontSize": 8.5, "titleFontSize": 8.5, "labelPadding": 5, "titlePadding": 10}},
    "color": {"field": "k", "type": "nominal",
     "scale": {"domain": ["H. vitticollis","U4","L4"], "range": ["#7030a0","#333333","#aaaaaa"]},
     "legend": {"orient": "none", "legendX": 237, "legendY": 4.75, "title": null, "symbolType": "M-5.25,0H5.25", "symbolSize": 16, "symbolStrokeWidth": 3, "symbolOffset": 6.25, "labelFontSize": 8.5, "rowPadding": 11.1, "labelOffset": 8.25,
      "labelExpr": "length(datum.value) < 3 ? (indexof(datum.value, 'U') == 0 ? 'Upper CI' : 'Lower CI') : datum.label",
      "encoding": {"symbols": {"strokeDash": {"condition": {"test": "length(datum.value) < 3", "value": [2.5, 1.5]}, "value": [1, 0]}, "strokeWidth": {"value": {"expr": "(length(datum.value || datum) < 3 ? 1 : 3)"}}}, "labels": {"fontStyle": {"condition": {"test": "length(datum.value) < 3", "value": "normal"}, "value": "italic"}}}}}
   }},
  {"mark": {"type": "line", "strokeWidth": 1, "strokeDash": [2.5, 1.5], "color": "#333333", "interpolate": "monotone"},
   "encoding": {"y": {"field": "u", "type": "quantitative", "title": "Logistic output (probability of presence)"}, "detail": {"field": "k", "type": "nominal"}}},
  {"mark": {"type": "line", "strokeWidth": 1, "strokeDash": [2.5, 1.5], "color": "#aaaaaa", "interpolate": "monotone"},
   "encoding": {"y": {"field": "l", "type": "quantitative", "title": "Logistic output (probability of presence)"}, "detail": {"field": "k", "type": "nominal"}}}
 ]
},
{
 "width": 317, "height": 193,
 "title": {"text": "I", "orient": "left", "anchor": "end", "frame": "group", "angle": 0, "offset": -5.5, "dy": -4.5, "fontSize": 15, "fontWeight": "bold", "baseline": "alphabetic", "align": "right"},
 "data": {"name": "I"},
 "encoding": {"x": {"field": "x", "type": "quantitative", "title": "NDVI (June)", "scale": {"domain": [0, 1], "range": [42, 317]}, "axis": {"values": [0, 0.1, 0.2, 0.3, 0.4, 0.5, 0.6, 0.7, 0.8, 0.9, 1], "tickCount": 20, "format": "~g", "labelOverlap": false, "labelFontSize": 8.5, "titleFontSize": 8.5, "labelPadding": 6, "titlePadding": 7}}},
 "layer": [
  {"mark": {"type": "line", "strokeWidth": 3.5},
   "encoding": {
    "y": {"field": "y", "type": "quantitative", "title": "Logistic output (probability of presence)", "scale": {"domain": [0, 0.7]}, "axis": {"values": [0, 0.1, 0.2, 0.3, 0.4, 0.5, 0.6, 0.7], "tickCount": 20, "format": "~g", "labelOverlap": false, "offset": -42, "labelFontSize": 8.5, "titleFontSize": 8.5, "labelPadding": 3, "titlePadding": 9}},
    "color": {"field": "k", "type": "nominal",
     "scale": {"domain": ["H. edwardsii","U6","L6"], "range": ["#00b0f0","#333333","#aaaaaa"]},
     "legend": {"orient": "none", "legendX": 78, "legendY": 3.75, "title": null, "symbolType": "M-5,0H5", "symbolSize": 16, "symbolStrokeWidth": 3.5, "symbolOffset": 5.75, "labelFontSize": 8.5, "rowPadding": 6, "labelOffset": 7.75,
      "labelExpr": "length(datum.value) < 3 ? (indexof(datum.value, 'U') == 0 ? 'Upper CI' : 'Lower CI') : datum.label",
      "encoding": {"symbols": {"strokeDash": {"condition": {"test": "length(datum.value) < 3", "value": [2.5, 1.5]}, "value": [1, 0]}, "strokeWidth": {"value": {"expr": "(length(datum.value || datum) < 3 ? 1 : 3.5)"}}}, "labels": {"fontStyle": {"condition": {"test": "length(datum.value) < 3", "value": "normal"}, "value": "italic"}}}}}
   }},
  {"mark": {"type": "line", "strokeWidth": 1, "strokeDash": [2.5, 1.5], "color": "#333333"},
   "encoding": {"y": {"field": "u", "type": "quantitative", "title": "Logistic output (probability of presence)"}, "detail": {"field": "k", "type": "nominal"}}},
  {"mark": {"type": "line", "strokeWidth": 1, "strokeDash": [2.5, 1.5], "color": "#aaaaaa"},
   "encoding": {"y": {"field": "l", "type": "quantitative", "title": "Logistic output (probability of presence)"}, "detail": {"field": "k", "type": "nominal"}}}
 ]
}
]
}
]
}
]
}
]
}
]
}
